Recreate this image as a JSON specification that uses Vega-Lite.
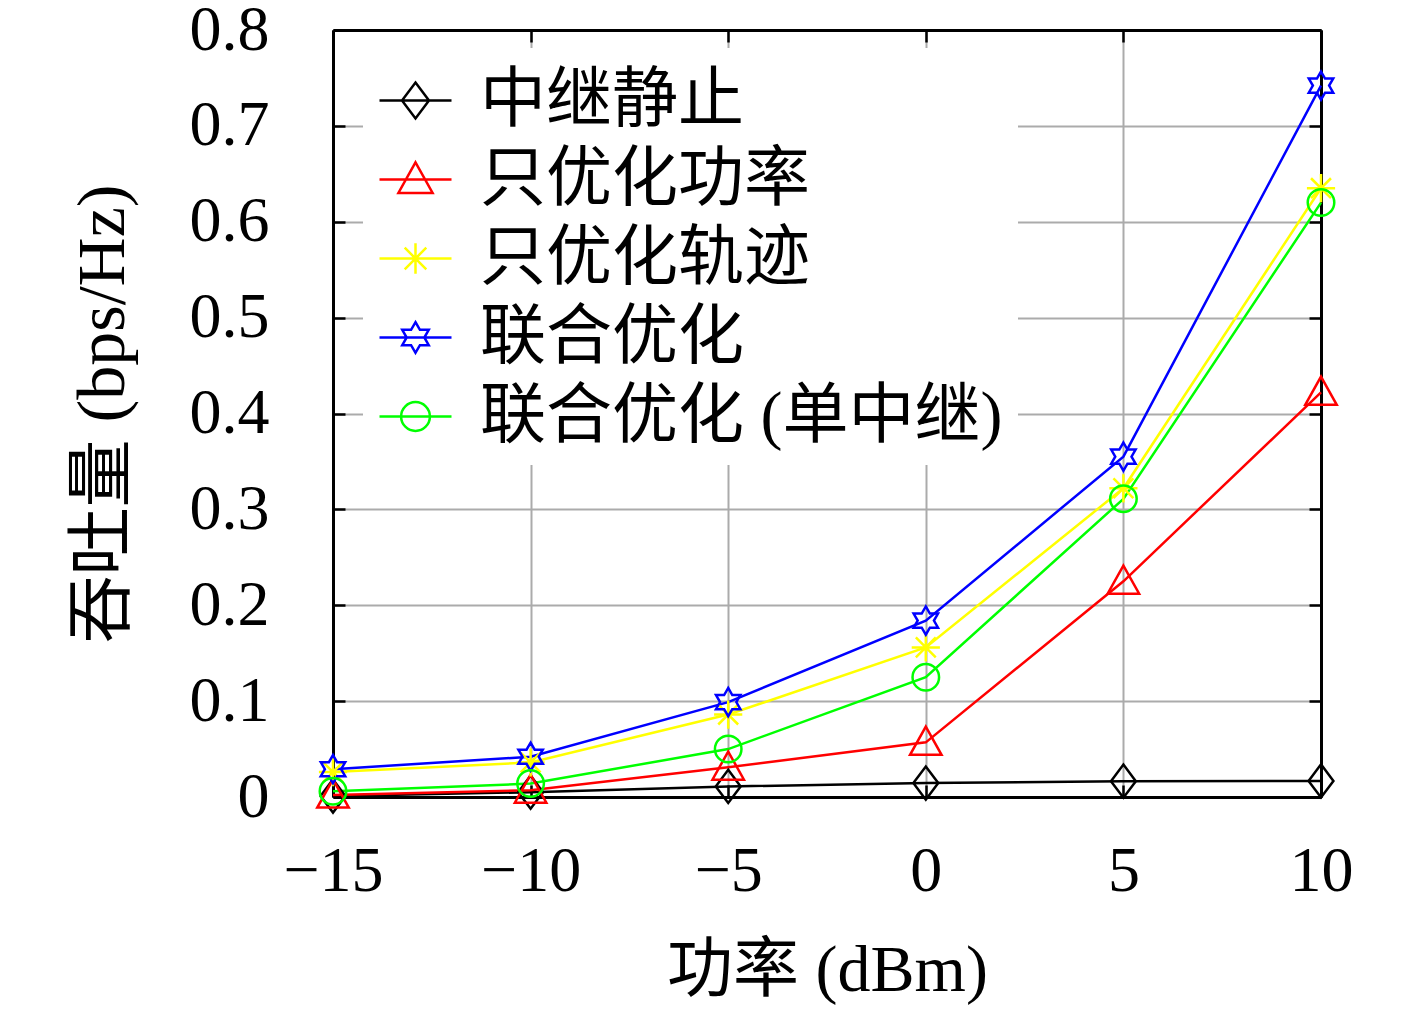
{
  "$schema": "https://vega.github.io/schema/vega-lite/v6.json",
  "width": 988,
  "height": 767,
  "autosize": "none",
  "padding": {"left": 333, "top": 30, "right": 96, "bottom": 216},
  "background": "white",
  "config": {"view": {"stroke": null}, "font": "Liberation Serif"},
  "data": {
    "values": [
      {"x": -15, "y": 0.001, "s": "中继静止"},
      {"x": -10, "y": 0.005, "s": "中继静止"},
      {"x": -5, "y": 0.011, "s": "中继静止"},
      {"x": 0, "y": 0.0145, "s": "中继静止"},
      {"x": 5, "y": 0.0165, "s": "中继静止"},
      {"x": 10, "y": 0.0168, "s": "中继静止"},
      {"x": -15, "y": 0.002, "s": "只优化功率"},
      {"x": -10, "y": 0.007, "s": "只优化功率"},
      {"x": -5, "y": 0.031, "s": "只优化功率"},
      {"x": 0, "y": 0.057, "s": "只优化功率"},
      {"x": 5, "y": 0.225, "s": "只优化功率"},
      {"x": 10, "y": 0.422, "s": "只优化功率"},
      {"x": -15, "y": 0.026, "s": "只优化轨迹"},
      {"x": -10, "y": 0.036, "s": "只优化轨迹"},
      {"x": -5, "y": 0.086, "s": "只优化轨迹"},
      {"x": 0, "y": 0.156, "s": "只优化轨迹"},
      {"x": 5, "y": 0.322, "s": "只优化轨迹"},
      {"x": 10, "y": 0.635, "s": "只优化轨迹"},
      {"x": -15, "y": 0.029, "s": "联合优化"},
      {"x": -10, "y": 0.042, "s": "联合优化"},
      {"x": -5, "y": 0.099, "s": "联合优化"},
      {"x": 0, "y": 0.184, "s": "联合优化"},
      {"x": 5, "y": 0.355, "s": "联合优化"},
      {"x": 10, "y": 0.742, "s": "联合优化"},
      {"x": -15, "y": 0.006, "s": "联合优化 (单中继)"},
      {"x": -10, "y": 0.014, "s": "联合优化 (单中继)"},
      {"x": -5, "y": 0.05, "s": "联合优化 (单中继)"},
      {"x": 0, "y": 0.125, "s": "联合优化 (单中继)"},
      {"x": 5, "y": 0.311, "s": "联合优化 (单中继)"},
      {"x": 10, "y": 0.62, "s": "联合优化 (单中继)"}
    ]
  },
  "layer": [
    {
      "mark": {"type": "line", "strokeWidth": 2.5},
      "encoding": {
        "x": {
          "field": "x", "type": "quantitative",
          "scale": {"domain": [-15, 10], "nice": false, "zero": false},
          "axis": {
            "orient": "bottom", "values": [-15, -10, -5, 0, 5, 10], "format": "d", "labelFlush": false,
            "grid": true, "gridColor": "#ababab", "gridWidth": 2,
            "domain": true, "domainColor": "black", "domainWidth": 3,
            "ticks": true, "tickColor": "black", "tickWidth": 2.5, "tickSize": -12,
            "labelFont": "Liberation Serif", "labelFontSize": 64, "labelColor": "black", "labelPadding": 54,
            "title": "功率 (dBm)", "titleFont": "Liberation Serif, 'Noto Sans CJK SC'", "titleFontSize": 66,
            "titleFontWeight": "normal", "titleColor": "black", "titleY": 173, "titleBaseline": "middle"
          }
        },
        "y": {
          "field": "y", "type": "quantitative",
          "scale": {"domain": [0, 0.8], "nice": false},
          "axis": {
            "orient": "left", "values": [0, 0.1, 0.2, 0.3, 0.4, 0.5, 0.6, 0.7, 0.8], "format": ".1~f", "labelFlush": false,
            "grid": true, "gridColor": "#ababab", "gridWidth": 2,
            "domain": true, "domainColor": "black", "domainWidth": 3,
            "ticks": true, "tickColor": "black", "tickWidth": 2.5, "tickSize": -12,
            "labelFont": "Liberation Serif", "labelFontSize": 64, "labelColor": "black", "labelPadding": 76,
            "title": "吞吐量 (bps/Hz)", "titleFont": "Liberation Serif, 'Noto Sans CJK SC'", "titleFontSize": 68,
            "titleFontWeight": "normal", "titleColor": "black", "titleX": -230, "titleY": 383.5, "titleBaseline": "middle"
          }
        },
        "color": {
          "field": "s", "type": "nominal", "legend": null,
          "scale": {
            "domain": ["中继静止", "只优化功率", "只优化轨迹", "联合优化", "联合优化 (单中继)"],
            "range": ["#000000", "#ff0000", "#ffff00", "#0000ff", "#00ff00"]
          }
        }
      }
    },
    {
      "mark": {"type": "point", "filled": false, "strokeWidth": 2.5, "size": 1100, "opacity": 1},
      "encoding": {
        "x": {
          "field": "x", "type": "quantitative",
          "scale": {"domain": [-15, 10], "nice": false, "zero": false},
          "axis": {
            "orient": "top", "values": [-15, -10, -5, 0, 5, 10], "labels": false, "grid": false,
            "domain": true, "domainColor": "black", "domainWidth": 3,
            "ticks": true, "tickColor": "black", "tickWidth": 2.5, "tickSize": -12, "title": null
          }
        },
        "y": {
          "field": "y", "type": "quantitative",
          "scale": {"domain": [0, 0.8], "nice": false},
          "axis": {
            "orient": "right", "values": [0, 0.1, 0.2, 0.3, 0.4, 0.5, 0.6, 0.7, 0.8], "labels": false, "grid": false,
            "domain": true, "domainColor": "black", "domainWidth": 3,
            "ticks": true, "tickColor": "black", "tickWidth": 2.5, "tickSize": -12, "title": null
          }
        },
        "color": {
          "field": "s", "type": "nominal", "legend": null,
          "scale": {
            "domain": ["中继静止", "只优化功率", "只优化轨迹", "联合优化", "联合优化 (单中继)"],
            "range": ["#000000", "#ff0000", "#ffff00", "#0000ff", "#00ff00"]
          }
        },
        "shape": {
          "field": "s", "type": "nominal", "legend": null,
          "scale": {
            "domain": ["中继静止", "只优化功率", "只优化轨迹", "联合优化", "联合优化 (单中继)"],
            "range": [
              "M0,-1L0.75,0L0,1L-0.75,0Z",
              "M0,-0.95L0.95,0.75L-0.95,0.75Z",
              "M0,-0.85L0,0.85M-0.85,0L0.85,0M-0.6,-0.6L0.6,0.6M-0.6,0.6L0.6,-0.6",
              "M0,-0.85L0.245,-0.425L0.736,-0.425L0.49,0L0.736,0.425L0.245,0.425L0,0.85L-0.245,0.425L-0.736,0.425L-0.49,0L-0.736,-0.425L-0.245,-0.425Z",
              "M-0.8,0A0.8,0.8 0 1,0 0.8,0A0.8,0.8 0 1,0 -0.8,0Z"
            ]
          }
        }
      }
    },
    {
      "transform": [{"filter": "false"}],
      "mark": {"type": "point", "filled": false, "strokeWidth": 2.5, "opacity": 1},
      "encoding": {
        "x": {"field": "x", "type": "quantitative", "scale": {"domain": [-15, 10], "nice": false, "zero": false}, "axis": null},
        "y": {"field": "y", "type": "quantitative", "scale": {"domain": [0, 0.8], "nice": false}, "axis": null},
        "color": {
          "field": "s", "type": "nominal",
          "scale": {
            "domain": ["中继静止", "只优化功率", "只优化轨迹", "联合优化", "联合优化 (单中继)"],
            "range": ["#000000", "#ff0000", "#ffff00", "#0000ff", "#00ff00"]
          },
          "legend": {
            "orient": "none", "legendX": 30, "legendY": 18, "title": null,
            "labelFont": "Liberation Serif, 'Noto Sans CJK SC'", "labelFontSize": 66, "labelColor": "black",
            "labelOffset": 27, "labelLimit": 0, "symbolSize": 5184, "symbolStrokeWidth": 2.5,
            "rowPadding": 8, "padding": 15, "fillColor": "white", "strokeColor": null
          }
        },
        "shape": {
          "field": "s", "type": "nominal",
          "scale": {
            "domain": ["中继静止", "只优化功率", "只优化轨迹", "联合优化", "联合优化 (单中继)"],
            "range": [
              "M-1,0L1,0M0,-0.5L0.375,0L0,0.5L-0.375,0Z",
              "M-1,0L1,0M0,-0.475L0.475,0.375L-0.475,0.375Z",
              "M-1,0L1,0M0,-0.425L0,0.425M-0.3,-0.3L0.3,0.3M-0.3,0.3L0.3,-0.3",
              "M-1,0L1,0M0,-0.425L0.1225,-0.2125L0.368,-0.2125L0.245,0L0.368,0.2125L0.1225,0.2125L0,0.425L-0.1225,0.2125L-0.368,0.2125L-0.245,0L-0.368,-0.2125L-0.1225,-0.2125Z",
              "M-1,0L1,0M-0.4,0A0.4,0.4 0 1,0 0.4,0A0.4,0.4 0 1,0 -0.4,0Z"
            ]
          },
          "legend": {
            "orient": "none", "legendX": 30, "legendY": 18, "title": null,
            "labelFont": "Liberation Serif, 'Noto Sans CJK SC'", "labelFontSize": 66, "labelColor": "black",
            "labelOffset": 27, "labelLimit": 0, "symbolSize": 5184, "symbolStrokeWidth": 2.5,
            "rowPadding": 8, "padding": 15, "fillColor": "white", "strokeColor": null
          }
        }
      }
    }
  ],
  "resolve": {
    "scale": {"shape": "independent", "color": "independent"},
    "axis": {"x": "independent", "y": "independent"}
  }
}
